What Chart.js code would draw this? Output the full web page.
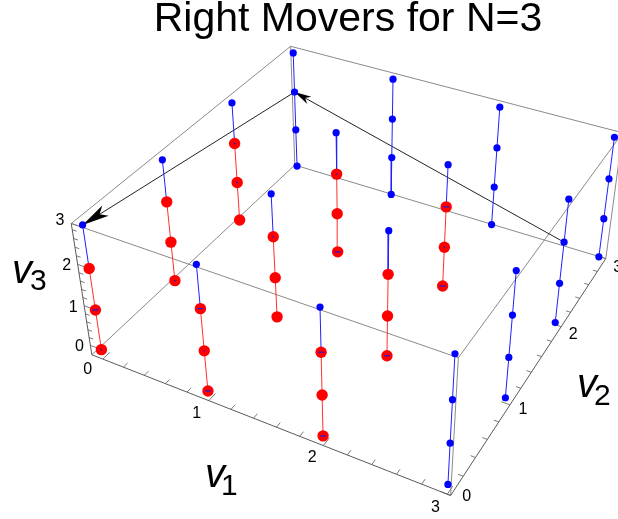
<!DOCTYPE html>
<html><head><meta charset="utf-8">
<style>html,body{margin:0;padding:0;background:#fff}#wrap{width:618px;height:519px;position:relative;overflow:hidden}</style>
<script src="https://cdn.jsdelivr.net/npm/chart.js@4"></script></head>
<body><div id="wrap"><canvas id="c" width="618" height="519"></canvas></div>
<script>
// ---- data: states (v1, v2, v3) ----
const titleText = "Right Movers for N=3";
const redStates = [
 [0,0,0],[0,0,1],[0,0,2],[1,0,0],[1,0,1],[1,0,2],[2,0,0],[2,0,1],[2,0,2],
 [0,1,0],[0,1,1],[0,1,2],[1,1,0],[1,1,1],[1,1,2],[2,1,0],[2,1,1],[2,1,2],
 [0,2,0],[0,2,1],[0,2,2],[1,2,0],[1,2,1],[1,2,2],[2,2,0],[2,2,1],[2,2,2]];
const blueStates = [
 [0,0,3],[1,0,3],[2,0,3],[0,1,3],[1,1,3],[2,1,3],[0,2,3],[1,2,3],[2,2,3],
 [3,0,0],[3,0,1],[3,0,2],[3,0,3],[3,1,0],[3,1,1],[3,1,2],[3,1,3],
 [3,2,0],[3,2,1],[3,2,2],[3,2,3],[3,3,0],[3,3,1],[3,3,2],[3,3,3],
 [0,3,0],[0,3,1],[0,3,2],[0,3,3],[1,3,0],[1,3,1],[1,3,2],[1,3,3],
 [2,3,0],[2,3,1],[2,3,2],[2,3,3]];
// small blue marks that show through the red points
const fleckStates = [[0,0,1],[1,0,2],[1,0,0],[2,0,2],[2,0,0],[2,1,0],
 [2,2,2],[2,2,0],[1,2,0]];
const dotFleckStates = [[0,0,0],[1,0,1],[2,2,1],[1,2,2],[0,2,2],[0,2,1],[0,1,0],[1,1,2]];
const arrowFrom = [[3,2,2],[0,3,2]];
const arrowTo   = [[0,3,2],[0,0,3]];
const tickValues = [0,1,2,3];
const minorStep = 0.2;
const axisLo = [-0.108, 0.000, -0.245];
const axisHi = [ 3.025, 3.134,  2.942];

// ---- perspective camera of the plot box ----
const cam = [98.76599,85.44243,-8.121881,101.3917,26.82161,-49.86300,-46.60510,349.6493,-0.03737384,0.06808147,-0.02244698];
function project(a,b,c){
  const w = cam[8]*a+cam[9]*b+cam[10]*c+1;
  return {x:(cam[0]*a+cam[1]*b+cam[2]*c+cam[3])/w, y:(cam[4]*a+cam[5]*b+cam[6]*c+cam[7])/w};
}
const gap = {x:NaN,y:NaN};
const P = s => project(s[0],s[1],s[2]);
const seg = list => list.flatMap(([p,q]) => [P(p),P(q),gap]);
const v2Tick = t => axisLo[1] + t*(axisHi[1]-axisLo[1])/3;

const [l1,l2,l3] = axisLo, [h1,h2,h3] = axisHi;
const boxEdges = [
 [[l1,h2,l3],[h1,h2,l3]],[[l1,l2,l3],[l1,h2,l3]],
 [[l1,l2,h3],[h1,l2,h3]],[[l1,h2,h3],[h1,h2,h3]],[[l1,l2,h3],[l1,h2,h3]],[[h1,l2,h3],[h1,h2,h3]],
 [[h1,l2,l3],[h1,l2,h3]],[[l1,h2,l3],[l1,h2,h3]],[[h1,h2,l3],[h1,h2,h3]]];
const axisEdges = [[[l1,l2,l3],[h1,l2,l3]],[[h1,l2,l3],[h1,h2,l3]],[[l1,l2,l3],[l1,l2,h3]]];
const tickSegs = [];
for(let k=0;k<=15;k++){
  const t = k*minorStep, major = k%5===0;
  const b=v2Tick(t), c=Math.min(t,h3);
  tickSegs.push([[t,l2,l3],[t,l2+(major?0.09:0.055),l3]]);
  tickSegs.push([[h1,b,l3],[h1-(major?0.07:0.04),b,l3]]);
  tickSegs.push([[l1,l2,c],[l1+(major?0.07:0.04),l2,c]]);
}
const blueLines = blueStates.filter(s=>s[2]>0).map(s=>[s,[s[0],s[1],s[2]-1]]);
const redLines = redStates.filter(s=>s[2]<2).map(s=>[s,[s[0],s[1],s[2]+1]]);
const arrowLines = arrowFrom.map((f,i)=>[f,arrowTo[i]]);

const line = (label,data,color,order,width=1)=>({label,data,order,showLine:true,borderColor:color,borderWidth:width,
  pointRadius:0,pointHoverRadius:0,spanGaps:false,clip:false,tension:0});
const dots = (label,data,color,order,radius)=>({label,data,order,showLine:false,backgroundColor:color,borderWidth:0,
  pointRadius:radius,pointHoverRadius:radius,clip:false});

const headSizes = [{len:17,notch:12,half:4.2},{len:27,notch:20,half:6}];
const arrowHeads = {
  id:'arrowHeads',
  afterDatasetDraw(chart,args){
    if(chart.data.datasets[args.index].label!=='arrows') return;
    const {ctx,scales:{x,y}} = chart;
    arrowFrom.forEach((f,i)=>{
      const a=P(f), b=P(arrowTo[i]);
      const tx=x.getPixelForValue(b.x), ty=y.getPixelForValue(b.y);
      const fx=x.getPixelForValue(a.x), fy=y.getPixelForValue(a.y);
      const d=Math.hypot(fx-tx,fy-ty), ux=(fx-tx)/d, uy=(fy-ty)/d, s=headSizes[i];
      ctx.save();ctx.fillStyle='#000';ctx.beginPath();
      ctx.moveTo(tx,ty);
      ctx.lineTo(tx+ux*s.len-uy*s.half,ty+uy*s.len+ux*s.half);
      ctx.lineTo(tx+ux*s.notch,ty+uy*s.notch);
      ctx.lineTo(tx+ux*s.len+uy*s.half,ty+uy*s.len-ux*s.half);
      ctx.closePath();ctx.fill();ctx.restore();
    });
  }
};
const FONT='"Liberation Sans",Arial,Helvetica,sans-serif';
const v1LabelOffsets=[[-15,11],[-12,13],[-11,12],[-12,13]];
const v2LabelOffsets=[[16,1],[13,5],[12,8],[12,9]];
const v3LabelOffsets=[[-11,1],[-11,2],[-11,1],[-11,0]];
const axisTitles = [
 {sub:'1',vx:205,vy:487,sx:221,sy:495},
 {sub:'2',vx:577,vy:397,sx:594,sy:405},
 {sub:'3',vx:12,vy:283,sx:30,sy:290}];
const textPlugin = {
  id:'axisText',
  afterDraw(chart){
    const {ctx,scales:{x,y}} = chart;
    ctx.save();ctx.fillStyle='#000';ctx.textBaseline='middle';ctx.textAlign='center';
    ctx.font='16px '+FONT;
    const put=(p,o,t)=>ctx.fillText(String(t),x.getPixelForValue(p.x)+o[0],y.getPixelForValue(p.y)+o[1]);
    tickValues.forEach((t,i)=>{
      put(project(t,l2,l3),v1LabelOffsets[i],t);
      put(project(h1,v2Tick(t),l3),v2LabelOffsets[i],t);
      put(project(l1,l2,t),v3LabelOffsets[i],t);
    });
    ctx.textBaseline='alphabetic';ctx.textAlign='left';
    axisTitles.forEach(a=>{
      ctx.font='italic 40px '+FONT;ctx.fillText('v',a.vx,a.vy);
      ctx.font='30px '+FONT;ctx.fillText(a.sub,a.sx,a.sy);
    });
    ctx.restore();
  }
};

new Chart(document.getElementById('c'),{
  type:'scatter',
  data:{datasets:[
    line('box',seg(boxEdges),'#8a8a8a',9),
    line('axes',seg(axisEdges),'#5a5a5a',8),
    line('ticks',seg(tickSegs),'#7a7a7a',8),
    line('arrows',seg(arrowLines),'#222222',7),
    line('blue links',seg(blueLines),'#2020ff',6),
    line('red links',seg(redLines),'#ff3030',5),
    dots('blue states',blueStates.map(P),'#0000ff',4,3.6),
    dots('red states',redStates.map(P),'#ff0000',3,5.7),
    {label:'flecks',data:fleckStates.map(P),order:2,showLine:false,pointStyle:'line',pointRadius:3,
     pointBorderColor:'#1a1ae6',pointBorderWidth:1.2,pointBackgroundColor:'#1a1ae6',clip:false},
    {label:'dot flecks',data:dotFleckStates.map(P),order:2,showLine:false,pointStyle:'rect',pointRadius:1,
     pointBorderWidth:0,pointBackgroundColor:'#1a1ae6',clip:false}
  ]},
  options:{
    responsive:false,animation:false,events:[],
    layout:{autoPadding:false,padding:{left:78,right:0,top:0,bottom:0}},
    scales:{
      x:{type:'linear',min:78,max:618,display:false},
      y:{type:'linear',min:46,max:519,reverse:true,display:false}
    },
    plugins:{
      legend:{display:false},tooltip:{enabled:false},
      title:{display:true,text:titleText,color:'#000',padding:{top:0,bottom:7},
             font:{family:FONT,size:41,weight:'normal',lineHeight:0.95}}
    }
  },
  plugins:[arrowHeads,textPlugin]
});
</script></body></html>
